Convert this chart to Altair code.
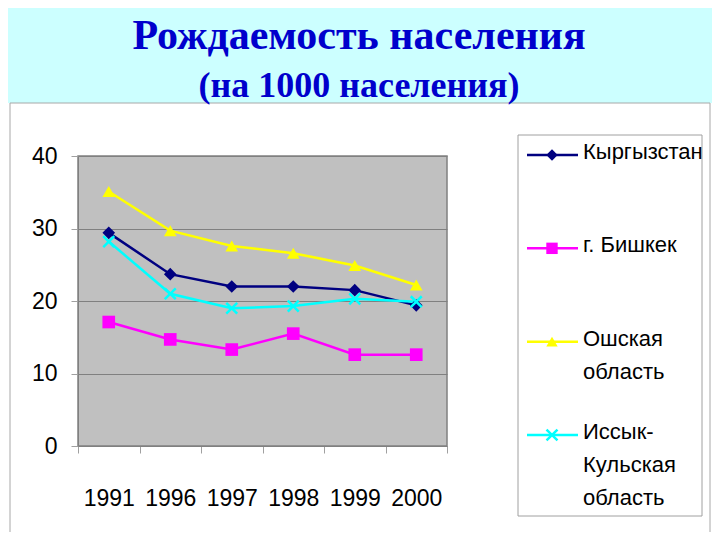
import altair as alt
import pandas as pd

years = ["1991", "1996", "1997", "1998", "1999", "2000"]
series = ["Кыргызстан", "г. Бишкек", "Ошская область", "Иссык-Кульская область"]
legend_labels = ["Кыргызстан", "г. Бишкек", "Ошская\nобласть", "Иссык-\nКульская\nобласть"]
kyrgyzstan = [29.4, 23.7, 22.0, 22.0, 21.5, 19.4]
bishkek = [17.1, 14.7, 13.3, 15.5, 12.6, 12.6]
osh = [35.1, 29.7, 27.6, 26.6, 24.9, 22.2]
issyk_kul = [28.2, 21.0, 19.0, 19.3, 20.3, 19.9]
y_ticks = [0, 10, 20, 30, 40]
title_main = "Рождаемость населения"
title_sub = "(на 1000 населения)"
colors = ["#000080", "#FF00FF", "#FFFF00", "#00FFFF"]

FONT = "Liberation Sans, Arial, sans-serif"
X_PATH = "M-1,-1L1,1M1,-1L-1,1"

rows = []
for name, vals in zip(series, [kyrgyzstan, bishkek, osh, issyk_kul]):
    for yr, v in zip(years, vals):
        rows.append({"year": yr, "value": v, "series": name})
df = pd.DataFrame(rows)
leg_df = pd.DataFrame({"series": series, "label": legend_labels})
one = pd.DataFrame({"a": [0]})

color = alt.Color("series:N", scale=alt.Scale(domain=series, range=colors), legend=None)
shape = alt.Shape("series:N", scale=alt.Scale(domain=series[:3], range=["diamond", "square", "triangle-up"]), legend=None)

x = alt.X("year:O", sort=years, bandPosition=0.5,
          scale=alt.Scale(type="band", paddingInner=0, paddingOuter=0),
          axis=alt.Axis(title=None, labelAngle=0, tickBand="extent", tickSize=7,
                        tickColor="#A0A0A0", domainColor="#808080", labelPadding=34,
                        labelFontSize=23, labelFont=FONT, labelColor="black", grid=False))
y = alt.Y("value:Q", scale=alt.Scale(domain=[0, 40], nice=False),
          axis=alt.Axis(title=None, values=y_ticks, tickSize=7, tickColor="#A0A0A0",
                        domainColor="#808080", labelPadding=14, labelFontSize=23,
                        labelFont=FONT, labelColor="black", grid=True,
                        gridColor="#808080", gridOpacity=1, gridWidth=1))

header = alt.Chart(one).mark_rect(color="#CCFFFF").encode(
    x=alt.value(-70), x2=alt.value(634), y=alt.value(-148), y2=alt.value(-53))
panel = alt.Chart(one).mark_rect(fillOpacity=0, stroke="#A8A8A8", strokeWidth=1).encode(
    x=alt.value(-68), x2=alt.value(632), y=alt.value(-53), y2=alt.value(400))
legbox = alt.Chart(one).mark_rect(fill="white", stroke="#A0A0A0", strokeWidth=1).encode(
    x=alt.value(440), x2=alt.value(624), y=alt.value(-21), y2=alt.value(360))
t1 = alt.Chart(pd.DataFrame({"t": [title_main]})).mark_text(
    font="Liberation Serif", fontWeight="bold", fontSize=42, color="#0000CC",
    align="center", baseline="alphabetic").encode(
    x=alt.value(281), y=alt.value(-107), text="t:N")
t2 = alt.Chart(pd.DataFrame({"t": [title_sub]})).mark_text(
    font="Liberation Serif", fontWeight="bold", fontSize=36, color="#0000CC",
    align="center", baseline="alphabetic").encode(
    x=alt.value(281), y=alt.value(-59), text="t:N")

lines = alt.Chart(df).mark_line(strokeWidth=2.5).encode(x=x, y=y, color=color, detail="series:N")
pts = alt.Chart(df).transform_filter(
    alt.FieldOneOfPredicate(field="series", oneOf=series[:3])
).mark_point(filled=True, opacity=1, size=160).encode(x=x, y=y, color=color, shape=shape)
xs = alt.Chart(df).transform_filter(
    alt.FieldEqualPredicate(field="series", equal=series[3])
).mark_point(filled=False, opacity=1, size=120, shape=X_PATH, strokeWidth=2.5).encode(
    x=x, y=y, color=color)

main = alt.layer(header, panel, legbox, t1, t2, lines, pts, xs)

ly = alt.Y("series:N", scale=alt.Scale(type="point", domain=series, range=[-1, 279], padding=0), axis=None)
leg_rule = alt.Chart(leg_df).mark_rule(strokeWidth=2.5).encode(
    x=alt.value(449), x2=alt.value(500), y=ly, color=color)
leg_pts = alt.Chart(leg_df).transform_filter(
    alt.FieldOneOfPredicate(field="series", oneOf=series[:3])
).mark_point(filled=True, opacity=1, size=130).encode(
    x=alt.value(474), y=ly, color=color, shape=shape)
leg_x = alt.Chart(leg_df).transform_filter(
    alt.FieldEqualPredicate(field="series", equal=series[3])
).mark_point(filled=False, opacity=1, size=120, shape=X_PATH, strokeWidth=2.5).encode(
    x=alt.value(474), y=ly, color=color)
leg_text = alt.Chart(leg_df).mark_text(
    align="left", baseline="top", dy=-13, fontSize=22, font=FONT, color="black",
    lineBreak="\n", lineHeight=33).encode(x=alt.value(505), y=ly, text="label:N")

legend = alt.layer(leg_rule, leg_pts, leg_x, leg_text)

chart = alt.layer(main, legend).resolve_scale(y="independent").properties(
    width=369, height=290,
    autosize=alt.AutoSizeParams(type="none"),
    padding={"left": 70, "top": 148, "right": 265, "bottom": 86},
    background="white",
).configure_view(fill="#C0C0C0", stroke="#808080", strokeWidth=1.5)

chart.save("out.html", embed_options={"renderer": "svg", "actions": False})
